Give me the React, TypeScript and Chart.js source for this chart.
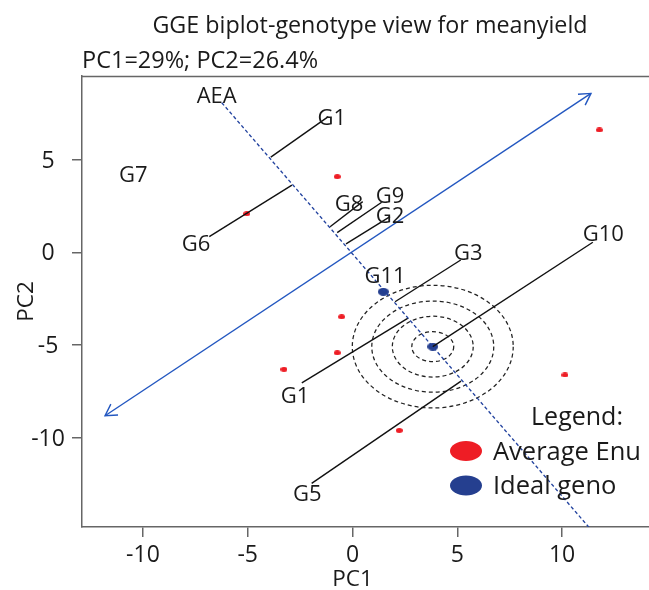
import React, { useEffect, useRef } from "react";
import { Chart, registerables } from "chart.js";

Chart.register(...registerables);

// ---------- text ----------
const chartTitle = "GGE biplot-genotype view for meanyield";
const chartSubtitle = "PC1=29%; PC2=26.4%";
const xAxisTitle = "PC1";
const yAxisTitle = "PC2";
const legendTitle = "Legend:";
const legendLabels = ["Average Enu", "Ideal geno"];

// ---------- axes ----------
const xTicks = [-10, -5, 0, 5, 10];
const yTicks = [5, 0, -5, -10];
const xRange = [-12.91, 14.15];
const yRange = [-14.82, 9.51];

// ---------- genotype projection segments (genotype -> AEA axis) ----------
const segGenotype = ["G1", "G6", "G8", "G9", "G2", "G3", "G10", "G1", "G5"];
const segStartPC1 = [-1.155, -6.835, 0.487, 1.394, 1.79, 5.165, 11.47, -2.42, -1.95];
const segStartPC2 = [7.32, 0.842, 2.73, 2.7, 1.92, -0.416, 0.54, -7.04, -12.47];
const segEndPC1 = [-3.9, -2.89, -1.07, -0.73, -0.31, 2.03, 3.83, 2.65, 5.18];
const segEndPC2 = [5.13, 3.62, 1.38, 1.06, 0.45, -2.67, -5.09, -3.55, -6.95];

// ---------- text labels ----------
const labelText = ["G1", "G6", "G7", "G8", "G9", "G2", "G3", "G10", "G11", "G1", "G5", "AEA"];
const labelPC1 = [-0.99, -7.47, -10.46, -0.17, 1.79, 1.79, 5.53, 11.97, 1.55, -2.74, -2.16, -6.48];
const labelPC2 = [7.28, 0.49, 4.21, 2.66, 3.09, 2.01, 0.03, 1.03, -1.23, -7.7, -13.0, 8.49];

// ---------- environments (red) ----------
const envPC1 = [11.78, -0.73, -5.05, -0.52, -0.73, -3.27, 10.14, 2.23];
const envPC2 = [6.6, 4.08, 2.08, -3.48, -5.42, -6.31, -6.62, -9.61];

// ---------- ideal genotype + G11 (blue) ----------
const idealPC1 = [3.83, 1.47];
const idealPC2 = [-5.09, -2.13];

// ---------- axes lines ----------
const aeaPC1 = [-6.24, 11.9];
const aeaPC2 = [8.07, -15.64];
const atcPC1 = [-11.81, 11.38];
const atcPC2 = [-8.82, 8.57];

// ---------- concentric rings around ideal genotype ----------
const ringRX = [1.0, 1.93, 2.91, 3.84];
const ringRY = [0.81, 1.64, 2.46, 3.31];

const FONT = '"Open Sans", "Noto Sans", sans-serif';
const CAP = 0.357; // half cap-height ratio of Open Sans
const RED = "#ee1d25";
const BLUE = "#253f8f";
const LINEBLUE = "#2357c0";
const DASHBLUE = "#23439f";
const AXIS = "#666666";
const TEXT = "#1a1a1a";

function ellipseCanvas(w: number, h: number, color: string) {
  const c = document.createElement("canvas");
  c.width = w;
  c.height = h;
  const g = c.getContext("2d")!;
  g.fillStyle = color;
  g.beginPath();
  g.ellipse(w / 2, h / 2, w / 2, h / 2, 0, 0, Math.PI * 2);
  g.fill();
  return c;
}

function arrowHead(ctx: CanvasRenderingContext2D, fx: number, fy: number, tx: number, ty: number) {
  const len = 13;
  const ang = Math.PI / 6;
  const a = Math.atan2(ty - fy, tx - fx);
  ctx.beginPath();
  ctx.moveTo(tx - len * Math.cos(a - ang), ty - len * Math.sin(a - ang));
  ctx.lineTo(tx, ty);
  ctx.lineTo(tx - len * Math.cos(a + ang), ty - len * Math.sin(a + ang));
  ctx.stroke();
}

// draw text whose capital letters are vertically centred on cy
function capText(ctx: CanvasRenderingContext2D, t: string, x: number, cy: number, size: number) {
  ctx.font = `${size}px ${FONT}`;
  ctx.textBaseline = "alphabetic";
  ctx.fillText(t, x, cy + CAP * size);
}

const overlay = {
  id: "overlay",
  beforeDatasetsDraw(chart: any) {
    const { ctx, chartArea: ca, scales } = chart;
    const sx = scales.x;
    const sy = scales.y;
    ctx.save();
    ctx.beginPath();
    ctx.rect(ca.left, ca.top, ca.right - ca.left, ca.bottom - ca.top);
    ctx.clip();
    ctx.strokeStyle = "#222";
    ctx.lineWidth = 1.25;
    ctx.setLineDash([4, 3]);
    const cx = sx.getPixelForValue(idealPC1[0]);
    const cy = sy.getPixelForValue(idealPC2[0]);
    ringRX.forEach((rx, i) => {
      const rpx = Math.abs(sx.getPixelForValue(idealPC1[0] + rx) - cx);
      const rpy = Math.abs(sy.getPixelForValue(idealPC2[0] + ringRY[i]) - cy);
      ctx.beginPath();
      ctx.ellipse(cx, cy, rpx, rpy, 0, 0, Math.PI * 2);
      ctx.stroke();
    });
    ctx.restore();
  },
  afterDatasetsDraw(chart: any) {
    const { ctx, chartArea: ca, scales } = chart;
    const sx = scales.x;
    const sy = scales.y;
    ctx.save();
    // arrow heads on ATC line
    ctx.strokeStyle = LINEBLUE;
    ctx.lineWidth = 1.4;
    const ax0 = sx.getPixelForValue(atcPC1[0]);
    const ay0 = sy.getPixelForValue(atcPC2[0]);
    const ax1 = sx.getPixelForValue(atcPC1[1]);
    const ay1 = sy.getPixelForValue(atcPC2[1]);
    arrowHead(ctx, ax0, ay0, ax1, ay1);
    arrowHead(ctx, ax1, ay1, ax0, ay0);

    // top border
    ctx.strokeStyle = AXIS;
    ctx.lineWidth = 1.5;
    ctx.beginPath();
    ctx.moveTo(ca.left, Math.round(ca.top) + 0.5);
    ctx.lineTo(ca.right, Math.round(ca.top) + 0.5);
    ctx.stroke();

    // point labels
    ctx.fillStyle = TEXT;
    ctx.textAlign = "center";
    labelText.forEach((t, i) => {
      capText(ctx, t, sx.getPixelForValue(labelPC1[i]), sy.getPixelForValue(labelPC2[i]), 22);
    });

    // tick labels
    xTicks.forEach((v) => {
      capText(ctx, String(v), sx.getPixelForValue(v), ca.bottom + 26.5, 23);
    });
    yTicks.forEach((v) => {
      capText(ctx, String(v), ca.left - 34, sy.getPixelForValue(v), 23);
    });

    // axis titles
    capText(ctx, xAxisTitle, sx.getPixelForValue(0), ca.bottom + 51, 22.5);
    ctx.save();
    ctx.translate(ca.left - 57, (ca.top + ca.bottom) / 2);
    ctx.rotate(-Math.PI / 2);
    capText(ctx, yAxisTitle, 0, 0, 22.5);
    ctx.restore();

    // titles
    capText(ctx, chartTitle, 370, 24.5, 23.3);
    ctx.textAlign = "left";
    capText(ctx, chartSubtitle, ca.left, 59.5, 23.5);

    // legend
    const lx = ca.right - 183;
    const ly = ca.bottom - 110.5;
    ctx.textAlign = "center";
    capText(ctx, legendTitle, lx + 111, ly, 25);
    ctx.fillStyle = RED;
    ctx.beginPath();
    ctx.ellipse(lx, ly + 34.5, 16, 10, 0, 0, Math.PI * 2);
    ctx.fill();
    ctx.fillStyle = BLUE;
    ctx.beginPath();
    ctx.ellipse(lx, ly + 69, 16, 10, 0, 0, Math.PI * 2);
    ctx.fill();
    ctx.fillStyle = TEXT;
    ctx.textAlign = "left";
    capText(ctx, legendLabels[0], lx + 27, ly + 34, 25.5);
    capText(ctx, legendLabels[1], lx + 27, ly + 68, 25.5);
    ctx.restore();
  },
};

export default function App() {
  const ref = useRef<HTMLCanvasElement | null>(null);
  useEffect(() => {
    if (!ref.current) return;
    const redDot = ellipseCanvas(7, 5, RED);
    const blueDot = ellipseCanvas(11, 8, BLUE);
    const line = (xs: number[], ys: number[], color: string, width: number, dash: number[] = []) => ({
      data: xs.map((x, i) => ({ x, y: ys[i] })),
      showLine: true,
      borderColor: color,
      borderWidth: width,
      borderDash: dash,
      pointRadius: 0,
      pointHoverRadius: 0,
    });
    const datasets: any[] = [
      line(aeaPC1, aeaPC2, DASHBLUE, 1.35, [3.5, 2.5]),
      line(atcPC1, atcPC2, LINEBLUE, 1.4),
      ...segGenotype.map((_, i) =>
        line([segStartPC1[i], segEndPC1[i]], [segStartPC2[i], segEndPC2[i]], "#111111", 1.4)
      ),
      {
        data: envPC1.map((x, i) => ({ x, y: envPC2[i] })),
        pointStyle: redDot,
        pointRadius: 4,
        showLine: false,
      },
      {
        data: idealPC1.map((x, i) => ({ x, y: idealPC2[i] })),
        pointStyle: blueDot,
        pointRadius: 6,
        showLine: false,
      },
    ];
    const axisCommon = (ticks: number[], min: number, max: number) => ({
      type: "linear",
      min,
      max,
      afterBuildTicks: (a: any) => {
        a.ticks = ticks.map((v) => ({ value: v }));
      },
      ticks: { display: false },
      grid: {
        display: true,
        drawOnChartArea: false,
        drawTicks: true,
        tickLength: 10,
        color: AXIS,
        lineWidth: 1.5,
      },
      border: { display: true, color: AXIS, width: 1.5 },
    });
    const chart = new Chart(ref.current, {
      type: "scatter",
      data: { datasets },
      options: {
        responsive: false,
        animation: false,
        events: [],
        layout: { autoPadding: false, padding: { left: 72, top: 76, right: 0, bottom: 53 } },
        plugins: { legend: { display: false }, tooltip: { enabled: false }, title: { display: false } },
        scales: {
          x: axisCommon(xTicks, xRange[0], xRange[1]) as any,
          y: axisCommon(yTicks, yRange[0], yRange[1]) as any,
        },
      },
      plugins: [overlay],
    });
    return () => chart.destroy();
  }, []);
  return (
    <div style={{ position: "absolute", left: 0, top: 0, width: 649, height: 590, background: "#fff" }}>
      <canvas ref={ref} width={649} height={590} style={{ display: "block" }} />
    </div>
  );
}
